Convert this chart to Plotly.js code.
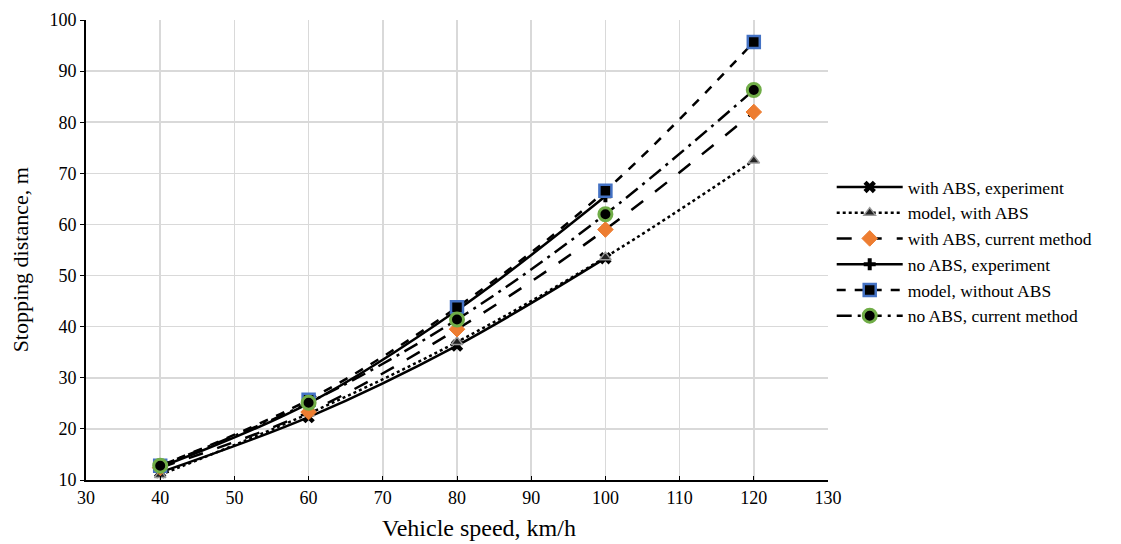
<!DOCTYPE html>
<html>
<head>
<meta charset="utf-8">
<script src="https://cdn.plot.ly/plotly-3.0.1.min.js"></script>
<style>html,body{margin:0;padding:0;background:#fff;}#chart{width:1121px;height:544px;}</style>
</head>
<body>
<div id="chart"></div>
<script>
// Data
const speeds = [40, 60, 80, 100, 120];
const speedsExp = [40, 60, 80, 100];
const withAbsExperiment = [11.5, 22.3, 36.3, 53.4];
const modelWithAbs = [11.0, 23.0, 37.0, 53.6, 72.5];
const withAbsCurrent = [12.4, 23.3, 39.5, 59.0, 82.0];
const noAbsExperiment = [12.5, 25.0, 43.2, 65.5];
const modelWithoutAbs = [12.8, 25.7, 43.8, 66.6, 95.7];
const noAbsCurrent = [12.8, 25.1, 41.4, 62.0, 86.3];
const seriesNames = ["with ABS, experiment", "model, with ABS", "with ABS, current method",
  "no ABS, experiment", "model, without ABS", "no ABS, current method"];
const xTitle = 'Vehicle speed, km/h';
const yTitle = 'Stopping distance, m';

const traces = [
  {x: speedsExp, y: withAbsExperiment, name: seriesNames[0], mode: 'lines+markers',
   line: {color: '#000', width: 2.5, shape: 'spline', dash: 'solid'},
   marker: {symbol: 'x', size: 11, color: '#000'}},
  {x: speeds, y: modelWithAbs, name: seriesNames[1], mode: 'lines+markers',
   line: {color: '#000', width: 2.5, shape: 'spline', dash: 'dot'},
   marker: {symbol: 'triangle-up', size: 10, color: '#222', line: {color: '#999', width: 1.5}}},
  {x: speeds, y: withAbsCurrent, name: seriesNames[2], mode: 'lines+markers',
   line: {color: '#000', width: 2.5, shape: 'spline', dash: 'longdash'},
   marker: {symbol: 'diamond', size: 12, color: '#ED7D31', line: {color: '#ED7D31', width: 1}}},
  {x: speedsExp, y: noAbsExperiment, name: seriesNames[3], mode: 'lines+markers',
   line: {color: '#000', width: 2.5, shape: 'spline', dash: 'solid'},
   marker: {symbol: 'cross', size: 10, color: '#000'}},
  {x: speeds, y: modelWithoutAbs, name: seriesNames[4], mode: 'lines+markers',
   line: {color: '#000', width: 2.5, shape: 'spline', dash: 'dash'},
   marker: {symbol: 'square', size: 12, color: '#000', line: {color: '#4472C4', width: 2.5}}},
  {x: speeds, y: noAbsCurrent, name: seriesNames[5], mode: 'lines+markers',
   line: {color: '#000', width: 2.5, shape: 'spline', dash: 'longdashdot'},
   marker: {symbol: 'circle', size: 13, color: '#000', line: {color: '#70AD47', width: 3}}}
];

const font = {family: '"Liberation Serif", "Times New Roman", serif', color: '#000'};

const layout = {
  width: 1121, height: 544,
  margin: {l: 86, r: 293, t: 20, b: 64},
  paper_bgcolor: '#fff', plot_bgcolor: '#fff',
  font: Object.assign({size: 18}, font),
  showlegend: true,
  legend: {x: 1.005, xanchor: 'left', y: 0.676, yanchor: 'top',
    font: Object.assign({size: 17.5}, font), itemwidth: 66, tracegroupgap: 0,
    bgcolor: 'rgba(0,0,0,0)'},
  xaxis: {range: [30, 130], dtick: 10, tick0: 30, showgrid: true, gridcolor: '#d9d9d9', gridwidth: 1.5,
    showline: true, linecolor: '#000', linewidth: 2, ticks: 'inside', ticklen: 4, tickcolor: '#000',
    zeroline: false, automargin: false, tickfont: Object.assign({size: 18}, font)},
  yaxis: {range: [10, 100], dtick: 10, tick0: 10, showgrid: true, gridcolor: '#d9d9d9', gridwidth: 1.5,
    showline: true, linecolor: '#000', linewidth: 2, ticks: 'outside', ticklen: 4, tickcolor: '#000',
    zeroline: false, automargin: false, tickfont: Object.assign({size: 18}, font)},
  annotations: [
    {text: xTitle, xref: 'paper', yref: 'paper', x: 0.53, y: -0.104, xanchor: 'center', yanchor: 'middle',
     showarrow: false, font: Object.assign({size: 24}, font)},
    {text: yTitle, xref: 'paper', yref: 'paper', x: -0.088, y: 0.479, xanchor: 'center', yanchor: 'middle',
     textangle: -90, showarrow: false, font: Object.assign({size: 22}, font)}
  ]
};

Plotly.newPlot('chart', traces, layout, {displayModeBar: false, staticPlot: true});
</script>
</body>
</html>
